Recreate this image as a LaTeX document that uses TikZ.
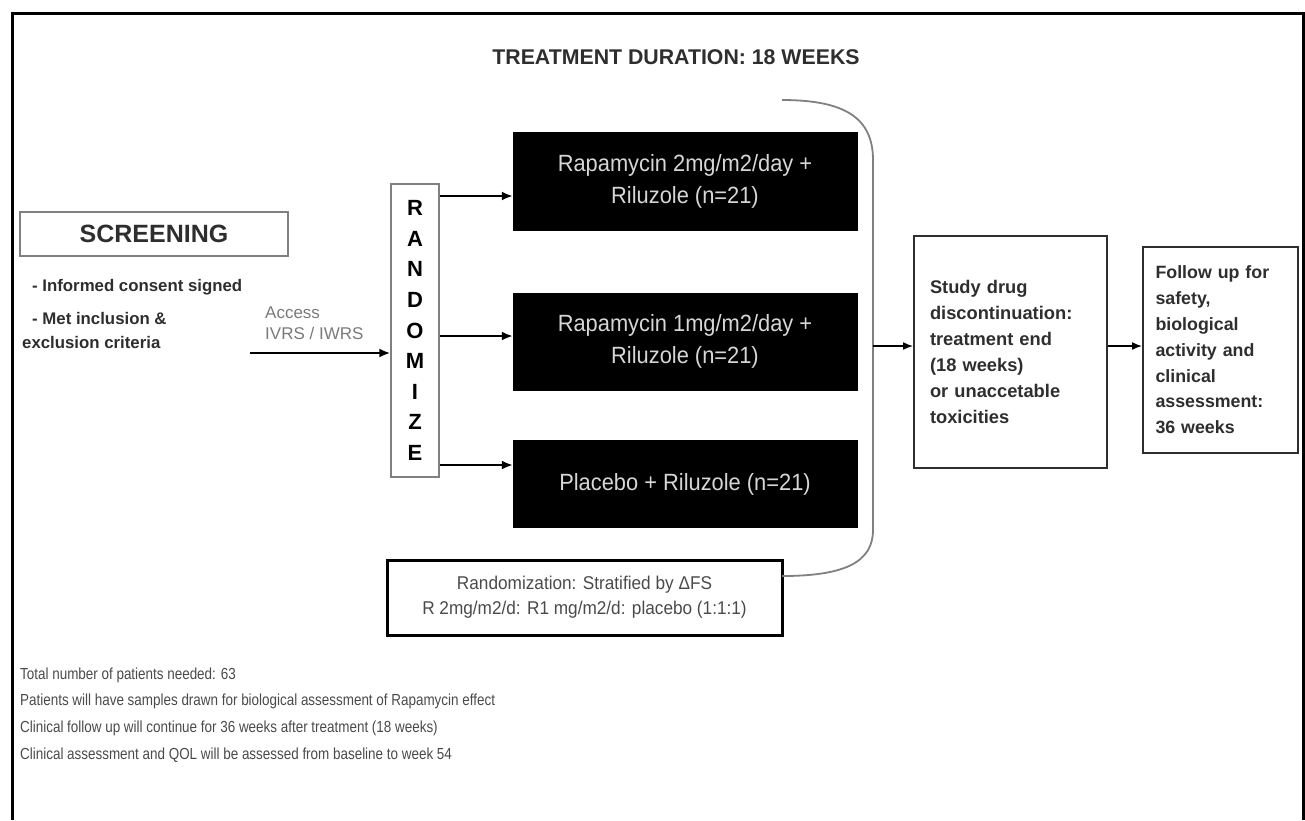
\documentclass[tikz,border=0pt]{standalone}
\usepackage{fontspec}
\setmainfont{Liberation Sans}
\newfontfamily\narrowA{Liberation Sans}[FakeStretch=0.84]
\newfontfamily\narrowB{Liberation Sans}[FakeStretch=0.93]
\usetikzlibrary{arrows.meta}
\definecolor{txtdark}{HTML}{2E2E2E}
\definecolor{txtgray}{HTML}{4A4A4A}
\definecolor{txtlight}{HTML}{7A7A7A}
\definecolor{boxtxt}{HTML}{D6D6D6}
\definecolor{linegray}{HTML}{808080}
\begin{document}
\begin{tikzpicture}[x=1pt,y=-1pt,
  arr/.style={-{Latex[length=11pt,width=9pt]},line width=2pt,black},
  arrthin/.style={-{Latex[length=10pt,width=8pt]},line width=1.5pt,black},
  armbox/.style={fill=black,draw=black,minimum width=344pt,inner sep=0pt,
    text=boxtxt,align=center,font=\narrowB\fontsize{23.5}{32}\selectfont},
  whitebox/.style={draw=txtdark,line width=2pt,inner sep=0pt,align=left,
    text=txtdark,font=\bfseries\fontsize{18.3}{26}\selectfont},
  bullet/.style={anchor=west,inner sep=0pt,text=txtdark,font=\bfseries\fontsize{16.8}{24}\selectfont},
]
\useasboundingbox (0,0) rectangle (1305,820);
% frame (open at the bottom)
\draw[line width=3pt] (12,820) -- (12,13) -- (1303,13) -- (1303,820);

% title
\node[text=txtdark,font=\bfseries\fontsize{21.3}{24}\selectfont] (title) at (676,57) {TREATMENT DURATION: 18 WEEKS};

% screening
\node[draw=linegray,line width=1.5pt,minimum width=268pt,minimum height=44pt,inner sep=0pt,
  text=txtdark,font=\bfseries\fontsize{25}{28}\selectfont] (screen) at (154,234) {SCREENING};
\node[bullet] (b1) at (32,287) {- Informed consent signed};
\node[bullet] (b2) at (32,318) {- Met inclusion \&};
\node[bullet] (b3) at (22,342) {exclusion criteria};

% access label
\node[anchor=west,inner sep=0pt,align=left,text=txtlight,font=\fontsize{17}{21}\selectfont] (acc) at (265,323.5) {Access\\IVRS / IWRS};

% randomize
\node[draw=linegray,line width=1.5pt,minimum width=48pt,minimum height=293pt,inner sep=0pt,
  align=center,text=black,font=\bfseries\fontsize{22}{30.6}\selectfont] (rand) at (415,330.5)
  {R\\A\\N\\D\\O\\M\\I\\Z\\E};

% treatment arms
\node[armbox,minimum height=98pt] (arm1) at (685,181) {Rapamycin 2mg/m2/day +\\Riluzole (n=21)};
\node[armbox,minimum height=97pt] (arm2) at (685,341.5) {Rapamycin 1mg/m2/day +\\Riluzole (n=21)};
\node[armbox,minimum height=87pt] (arm3) at (685,484) {Placebo + Riluzole (n=21)};

% randomization note
\node[draw=black,line width=3pt,minimum width=395pt,minimum height=75pt,inner sep=0pt,
  align=center,text=txtgray,font=\narrowB\fontsize{18.5}{25}\selectfont] (note) at (584.5,597.5)
  {Randomization: Stratified by ΔFS\\R 2mg/m2/d: R1 mg/m2/d: placebo (1:1:1)};

% bracket
\draw[linegray,line width=1.8pt] (782,100) .. controls (845,100) and (873,118) .. (873,160)
  -- (873,530) .. controls (873,562) and (845,576) .. (782,576);
\coordinate (brk) at (873,346);

% study drug discontinuation
\node[whitebox,minimum width=193pt,minimum height=232pt,text width=161pt] (study) at (1010.5,352)
  {Study drug\\discontinuation:\\treatment end\\(18 weeks)\\or unaccetable\\toxicities};

% follow up
\node[whitebox,minimum width=155pt,minimum height=206pt,text width=130pt,
  font=\bfseries\fontsize{17.8}{25.8}\selectfont] (follow) at (1220.5,350)
  {Follow up for\\safety,\\biological\\activity and\\clinical\\assessment:\\36 weeks};

% bottom notes
\node[anchor=west,inner sep=0pt,align=left,text=txtgray,font=\narrowA\fontsize{16}{26.7}\selectfont] (notes) at (20,715)
  {Total number of patients needed: 63\\
   Patients will have samples drawn for biological assessment of Rapamycin effect\\
   Clinical follow up will continue for 36 weeks after treatment (18 weeks)\\
   Clinical assessment and QOL will be assessed from baseline to week 54};

% connectors
\coordinate (accstart) at (250,353);
\draw[arr] (accstart) -- (accstart -| rand.west);
\coordinate (r1) at (439,196);
\coordinate (r2) at (439,336);
\coordinate (r3) at (439,465);
\draw[arr] (r1 -| rand.east) -- (r1 -| arm1.west);
\draw[arr] (r2 -| rand.east) -- (r2 -| arm2.west);
\draw[arr] (r3 -| rand.east) -- (r3 -| arm3.west);
\draw[arrthin] (brk) -- (brk -| study.west);
\coordinate (s1) at (1107,346);
\draw[arrthin] (s1 -| study.east) -- (s1 -| follow.west);
\end{tikzpicture}
\end{document}
